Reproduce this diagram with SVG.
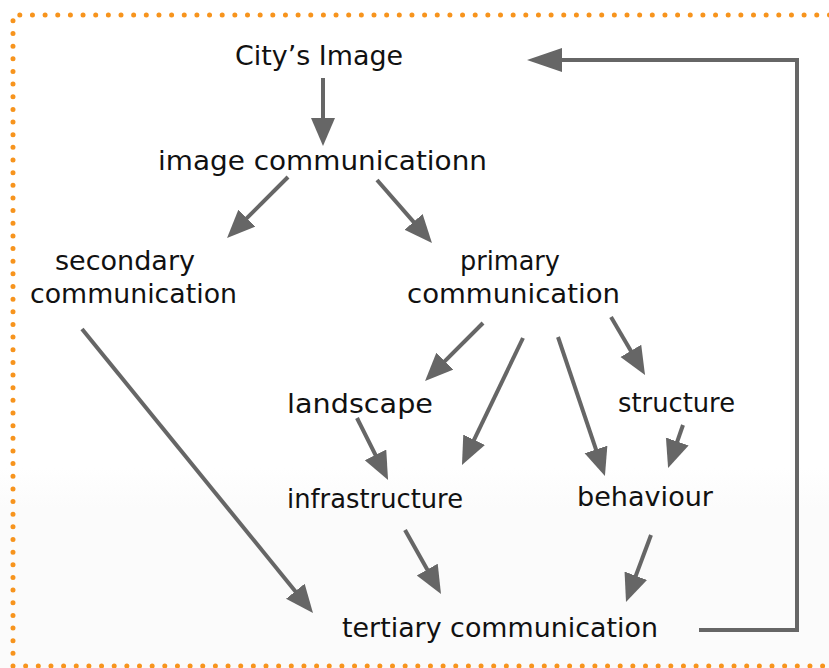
<svg xmlns="http://www.w3.org/2000/svg" width="829" height="668" viewBox="0 0 829 668">
  <style>
    .lbl { font-family: "DejaVu Sans", "Liberation Sans", sans-serif; font-size: 27px; fill: #111111; }
    .edge { fill: none; stroke: #666666; stroke-width: 4; }
    .frame { fill: none; stroke: #f7941d; stroke-width: 5; stroke-linecap: round; stroke-dasharray: 0 12.65; }
  </style>
  <defs>
    <marker id="head" markerUnits="userSpaceOnUse" markerWidth="30" markerHeight="26" refX="6" refY="12" orient="auto">
      <path d="M0,0 L28,12 L0,24 Z" fill="#666666"/>
    </marker>
    <marker id="headLong" markerUnits="userSpaceOnUse" markerWidth="37" markerHeight="26" refX="6" refY="12" orient="auto">
      <path d="M0,0 L35,12 L0,24 Z" fill="#666666"/>
    </marker>
    <linearGradient id="bg" x1="0" y1="0" x2="0" y2="1">
      <stop offset="0" stop-color="#ffffff"/>
      <stop offset="0.7" stop-color="#ffffff"/>
      <stop offset="0.76" stop-color="#fbfbfb"/>
      <stop offset="1" stop-color="#fbfbfb"/>
    </linearGradient>
  </defs>

  <rect x="0" y="0" width="829" height="668" fill="url(#bg)"/>

  <!-- dotted frame (open on the right) -->
  <path class="frame" d="M13,666 L13,15 L835,15 M13,666 L835,666"/>

  <g id="connectors">
    <line class="edge" x1="323" y1="78" x2="323" y2="124" marker-end="url(#head)"/>
    <line class="edge" x1="288" y1="177" x2="242.6" y2="222.4" marker-end="url(#head)"/>
    <line class="edge" x1="377" y1="180" x2="417.5" y2="226.4" marker-end="url(#head)"/>
    <line class="edge" x1="483" y1="323" x2="440.6" y2="365.4" marker-end="url(#head)"/>
    <line class="edge" x1="523" y1="338" x2="471.5" y2="445.2" marker-end="url(#head)"/>
    <line class="edge" x1="558" y1="337" x2="597.9" y2="455.2" marker-end="url(#head)"/>
    <line class="edge" x1="611" y1="317" x2="633.9" y2="356" marker-end="url(#head)"/>
    <line class="edge" x1="683" y1="425" x2="675.3" y2="447.2" marker-end="url(#head)"/>
    <line class="edge" x1="357" y1="418" x2="378.2" y2="460.3" marker-end="url(#head)"/>
    <line class="edge" x1="82" y1="329" x2="299.1" y2="595.9" marker-end="url(#head)"/>
    <line class="edge" x1="405" y1="530" x2="430.2" y2="574.8" marker-end="url(#head)"/>
    <line class="edge" x1="651" y1="535" x2="633.7" y2="581.4" marker-end="url(#head)"/>
    <polyline class="edge" points="699,630 797,630 797,60 556,60" marker-end="url(#headLong)"/>
  </g>

  <g id="city-image"><text class="lbl" x="235" y="65" textLength="168" lengthAdjust="spacingAndGlyphs">City’s Image</text></g>
  <g id="image-communication"><text class="lbl" x="158" y="170" textLength="329" lengthAdjust="spacingAndGlyphs">image communicationn</text></g>
  <g id="secondary-communication">
    <text class="lbl" x="55" y="270" textLength="140" lengthAdjust="spacingAndGlyphs">secondary</text>
    <text class="lbl" x="30" y="303" textLength="207" lengthAdjust="spacingAndGlyphs">communication</text>
  </g>
  <g id="primary-communication">
    <text class="lbl" x="460" y="270" textLength="100" lengthAdjust="spacingAndGlyphs">primary</text>
    <text class="lbl" x="407" y="303" textLength="213" lengthAdjust="spacingAndGlyphs">communication</text>
  </g>
  <g id="landscape"><text class="lbl" x="287" y="413" textLength="146" lengthAdjust="spacingAndGlyphs">landscape</text></g>
  <g id="structure"><text class="lbl" x="618" y="412" textLength="117" lengthAdjust="spacingAndGlyphs">structure</text></g>
  <g id="infrastructure"><text class="lbl" x="287" y="508" textLength="176" lengthAdjust="spacingAndGlyphs">infrastructure</text></g>
  <g id="behaviour"><text class="lbl" x="577" y="506" textLength="136" lengthAdjust="spacingAndGlyphs">behaviour</text></g>
  <g id="tertiary-communication"><text class="lbl" x="342" y="637" textLength="316" lengthAdjust="spacingAndGlyphs">tertiary communication</text></g>
</svg>
